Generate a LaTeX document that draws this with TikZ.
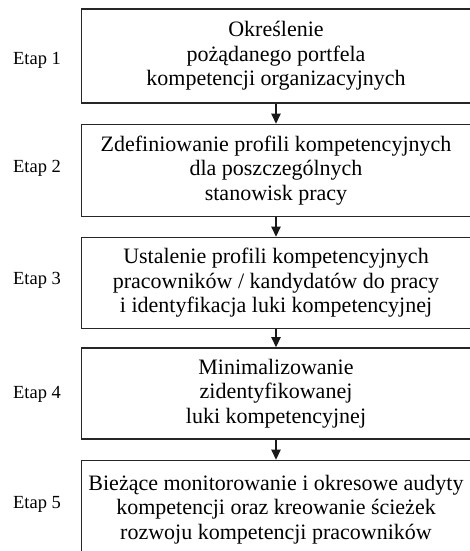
\documentclass[tikz,border=0pt]{standalone}
\usepackage{fontspec}
\setmainfont{Liberation Serif}
\usetikzlibrary{arrows.meta}
\begin{document}
\begin{tikzpicture}[x=1pt,y=-1pt,
  stage/.style={draw=black!85, line width=1.8pt, fill=white, inner sep=0pt,
    minimum width=389pt, align=center,
    font=\fontsize{22}{24.5}\selectfont},
  etap/.style={font=\fontsize{18.5}{20}\selectfont, anchor=center},
  flow/.style={draw=black!90, line width=1.2pt,
    -{Triangle[width=9.5pt,length=10pt]}}]
\useasboundingbox (0,0) rectangle (470,551);
\fill[white] (0,0) rectangle (470,551);

\node[stage, minimum height=94pt] (s1) at (276,56)
  {Określenie\\pożądanego portfela\\kompetencji organizacyjnych};
\node[stage, minimum height=92pt] (s2) at (276,170.5)
  {Zdefiniowanie profili kompetencyjnych\\dla poszczególnych\\stanowisk pracy};
\node[stage, minimum height=91pt] (s3) at (276,283)
  {Ustalenie profili kompetencyjnych\\pracowników / kandydatów do pracy\\i identyfikacja luki kompetencyjnej};
\node[stage, minimum height=91pt] (s4) at (276,393.5)
  {Minimalizowanie\\zidentyfikowanej\\luki kompetencyjnej};
\node[stage, minimum height=98pt] (s5) at (276,509.5)
  {Bieżące monitorowanie i okresowe audyty\\kompetencji oraz kreowanie ścieżek\\rozwoju kompetencji pracowników};

\node[etap] (e1) at (37,60) {Etap 1};
\node[etap] (e2) at (37,168) {Etap 2};
\node[etap] (e3) at (37,280) {Etap 3};
\node[etap] (e4) at (37,394) {Etap 4};
\node[etap] (e5) at (37,504) {Etap 5};

\draw[flow] (s1.south) -- (s2.north);
\draw[flow] (s2.south) -- (s3.north);
\draw[flow] (s3.south) -- (s4.north);
\draw[flow] (s4.south) -- (s5.north);
\end{tikzpicture}
\end{document}
